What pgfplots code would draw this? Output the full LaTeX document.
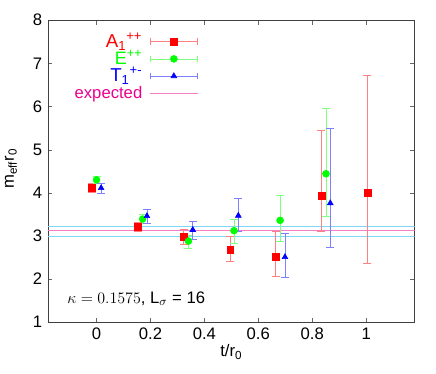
\documentclass[border=0pt]{standalone}
\usepackage{fontspec}
\setmainfont{Liberation Sans}
\usepackage{pgfplots}
\usepackage{pgfplotstable}
\pgfplotsset{compat=1.18}

% x, central value, lower and upper end of error bar
\pgfplotstableread{
x      y    lo   hi
-0.016 4.12 4.02 4.22
0.153  3.21 3.10 3.32
0.323  2.98 2.81 3.15
0.496  2.68 2.42 3.00
0.664  2.51 2.07 3.10
0.834  3.93 3.10 5.44
1.005  3.99 2.36 6.73
}\dataA

\pgfplotstableread{
x      y    lo   hi
0.000  4.30 4.23 4.38
0.171  3.39 3.30 3.49
0.341  2.88 2.72 3.02
0.510  3.12 2.84 3.39
0.681  3.36 2.88 3.94
0.851  4.44 3.45 5.97
}\dataE

\pgfplotstableread{
x      y    lo   hi
0.017  4.11 3.99 4.22
0.187  3.46 3.29 3.62
0.357  3.14 2.93 3.35
0.526  3.47 3.10 3.88
0.699  2.51 2.05 3.06
0.867  3.76 2.73 5.49
}\dataT

\pgfplotsset{
  ebleg red/.style={legend image code/.code={%
    \draw[red!50,line width=0.6pt] (0cm,0cm) -- (1.25cm,0cm) (0cm,-2.5pt) -- (0cm,2.5pt) (1.25cm,-2.5pt) -- (1.25cm,2.5pt);
    \path[red, mark=square*, mark size=2.6pt] plot coordinates {(0.625cm,0cm)};}},
  ebleg green/.style={legend image code/.code={%
    \draw[green!50,line width=0.6pt] (0cm,0cm) -- (1.25cm,0cm) (0cm,-2.5pt) -- (0cm,2.5pt) (1.25cm,-2.5pt) -- (1.25cm,2.5pt);
    \path[green, mark=*, mark size=2.6pt] plot coordinates {(0.625cm,0cm)};}},
  ebleg blue/.style={legend image code/.code={%
    \draw[blue!50,line width=0.6pt] (0cm,0cm) -- (1.25cm,0cm) (0cm,-2.5pt) -- (0cm,2.5pt) (1.25cm,-2.5pt) -- (1.25cm,2.5pt);
    \path[blue, mark=triangle*, mark size=2.5pt] plot coordinates {(0.625cm,0cm)};}},
  lineleg/.style={legend image code/.code={%
    \draw[magenta!50,line width=0.8pt] (0cm,0cm) -- (1.25cm,0cm);}},
}
% legend text in a box of fixed height and depth, so the rows are evenly spaced
\newcommand{\legtext}[2]{\textcolor{#1}{\raisebox{0pt}[10pt][2.8pt]{#2}}}

\begin{document}
\fontsize{12.5}{15}\selectfont
\begin{tikzpicture}
\begin{axis}[
    name=ax,
    scale only axis,
    width=275pt, height=226.4pt,
    xmin=-0.18, xmax=1.18,
    ymin=1, ymax=8,
    xtick={0,0.2,0.4,0.6,0.8,1},
    ytick={1,2,3,4,5,6,7,8},
    tick align=inside,
    tick pos=both,
    major tick length=3.3pt,
    axis line style={black!75},
    major tick style={black!60},
    /pgf/number format/assume math mode=true,
    xlabel={t/r\textsubscript{0}},
    ylabel={m\textsubscript{eff}r\textsubscript{0}},
    xlabel style={at={(axis description cs:0.5,-0.055)}, anchor=north},
    ylabel style={at={(axis description cs:-0.093,0.508)}, anchor=base},
    legend style={at={(axis description cs:0.421,0.967)}, anchor=north east,
        draw=none, fill=none, cells={anchor=east}, row sep=0pt,
        nodes={inner sep=0.5pt}, column sep=5pt},
    legend plot pos=right,
]

% reference levels
\addplot[cyan!50, line width=0.8pt, forget plot] coordinates {(-0.18,3.22) (1.18,3.22)};
\addplot[cyan!50, line width=0.8pt, forget plot] coordinates {(-0.18,2.99) (1.18,2.99)};
\addplot[magenta!50, line width=0.8pt, forget plot] coordinates {(-0.18,3.12) (1.18,3.12)};

\addplot[only marks, mark=square*, mark size=2.6pt, color=red, ebleg red,
    error bars/.cd, y dir=both, y explicit,
    error bar style={red!50, line width=0.6pt},
    error mark options={rotate=90, mark size=3pt, red!50}]
    table[x=x, y=y, y error plus expr=\thisrow{hi}-\thisrow{y}, y error minus expr=\thisrow{y}-\thisrow{lo}] {\dataA};
\addlegendentry{\legtext{red}{\fontsize{14}{16}\selectfont A\textsubscript{1}\textsuperscript{++}}}

\addplot[only marks, mark=*, mark size=2.6pt, color=green, ebleg green,
    error bars/.cd, y dir=both, y explicit,
    error bar style={green!50, line width=0.6pt},
    error mark options={rotate=90, mark size=3pt, green!50}]
    table[x=x, y=y, y error plus expr=\thisrow{hi}-\thisrow{y}, y error minus expr=\thisrow{y}-\thisrow{lo}] {\dataE};
\addlegendentry{\legtext{green}{\fontsize{13.5}{16}\selectfont E\textsuperscript{++}}}

\addplot[only marks, mark=triangle*, mark size=2.5pt, color=blue, ebleg blue,
    error bars/.cd, y dir=both, y explicit,
    error bar style={blue!50, line width=0.6pt},
    error mark options={rotate=90, mark size=3pt, blue!50}]
    table[x=x, y=y, y error plus expr=\thisrow{hi}-\thisrow{y}, y error minus expr=\thisrow{y}-\thisrow{lo}] {\dataT};
\addlegendentry{\legtext{blue}{\fontsize{14}{16}\selectfont T\textsubscript{1}\textsuperscript{+-}}}

\addlegendimage{lineleg}
\addlegendentry{\legtext{magenta}{expected}}

\node[anchor=west] at (axis cs:-0.13,1.55) {$\kappa = 0.1575$, L$_\sigma$ = 16};
\end{axis}
\pgfresetboundingbox
\path[use as bounding box] ([xshift=-36pt,yshift=-38.8pt]ax.south west) rectangle ([xshift=16pt,yshift=15.2pt]ax.north east);
\end{tikzpicture}
\end{document}
